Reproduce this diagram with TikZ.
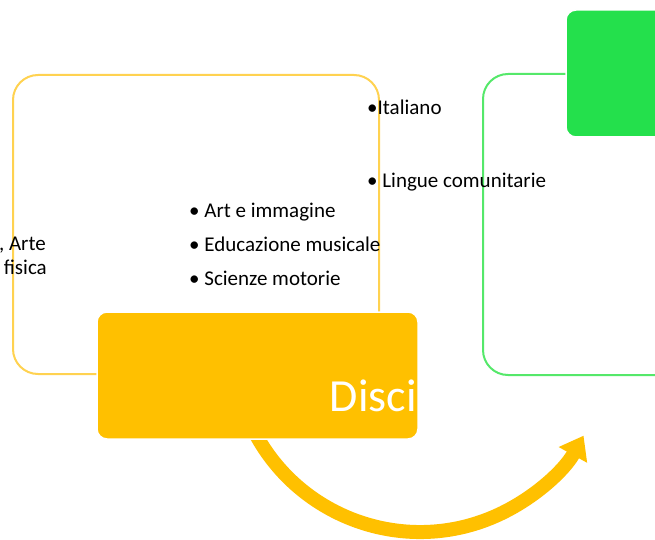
\documentclass[tikz,border=0pt]{standalone}
\usepackage{fontspec}
\setmainfont{Carlito}
\usetikzlibrary{arrows.meta,calc}
\definecolor{ylwfill}{RGB}{255,192,0}
\definecolor{ylwline}{RGB}{255,210,80}
\definecolor{grnfill}{RGB}{36,224,76}
\definecolor{grnline}{RGB}{85,232,106}
\tikzset{
  outlinebox/.style={line width=2pt, rounded corners=25pt},
  fillbox/.style={draw=white, line width=1.5pt, rounded corners=10pt},
  itemtext/.style={anchor=base west, inner sep=0pt, font=\fontsize{21}{25}\selectfont},
  lefttext/.style={anchor=base east, inner sep=0pt, font=\fontsize{21}{25}\selectfont},
}
\begin{document}
\begin{tikzpicture}[x=1pt,y=1pt]
\clip (0,0) rectangle (655,-540);
\fill[white] (0,0) rectangle (655,-540);
% green outline and box
\draw[outlinebox, grnline] (483,-74) rectangle (720,-375);
\path[fillbox, fill=grnfill] (566,-10) rectangle (720,-137);
% yellow outline
\draw[outlinebox, ylwline] (13,-75) rectangle (379,-374);
% arrow
\coordinate (arcstart) at ($(420,-345)+(205:187)$);
\draw[ylwfill, line width=14pt, -{Triangle[length=22pt,width=31pt]}] (arcstart) arc[start angle=205, end angle=331, radius=187];
% texts
\node[itemtext] (it) at (367,-115) {•Italiano};
\node[itemtext] (li) at (367,-187) {• Lingue comunitarie};
\node[itemtext] (ar) at (189,-217) {• Art e immagine};
\node[itemtext] (ed) at (189,-251) {• Educazione musicale};
\node[itemtext] (sc) at (189,-285) {• Scienze motorie};
\node[lefttext] (arte) at (46,-250) {, Arte};
\node[lefttext] (fis) at (47,-274) {fisica};
% yellow filled box
\path[fillbox, fill=ylwfill] (97,-312) rectangle (418,-439);
\node[anchor=base east, inner sep=0pt, text=white, font=\fontsize{46}{50}\selectfont] (disci) at (417,-411) {Disci};
\end{tikzpicture}
\end{document}
